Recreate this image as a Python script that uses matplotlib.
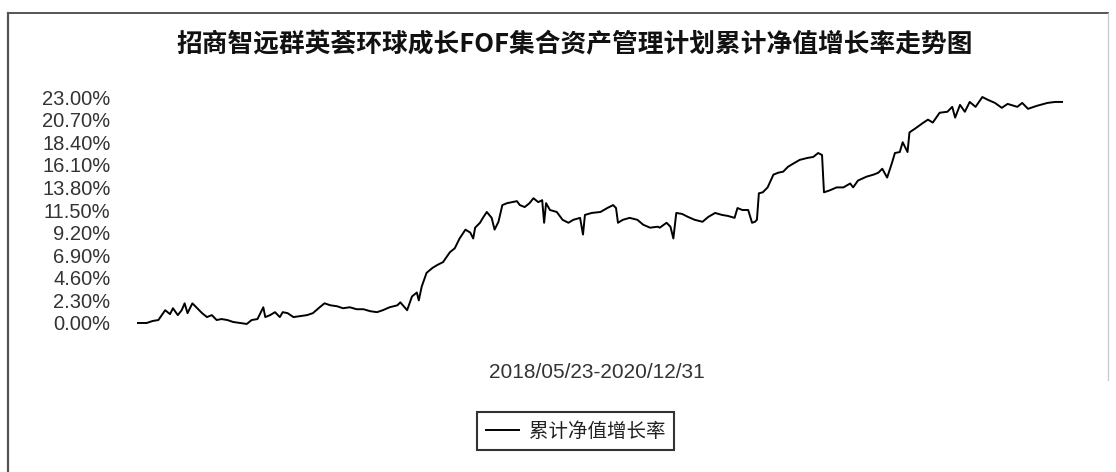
import matplotlib
matplotlib.use("Agg")
import matplotlib.pyplot as plt
from matplotlib.lines import Line2D

plt.rcParams['font.family'] = ['Liberation Sans', 'Noto Sans CJK SC', 'DejaVu Sans']

title = "招商智远群英荟环球成长FOF集合资产管理计划累计净值增长率走势图"
period_label = "2018/05/23-2020/12/31"
legend_label = "累计净值增长率"
total_days = 953  # 2018/05/23 -> 2020/12/31

# day offset from 2018/05/23
days = [0, 10, 16, 22, 29, 34, 37, 42, 46, 49, 52, 57, 62, 67, 72, 77, 82, 87, 93, 99,
        106, 113, 118, 124, 130, 132, 137, 142, 147, 150, 155, 161, 168, 175, 181, 188,
        193, 199, 206, 212, 219, 226, 233, 240, 247, 253, 260, 268, 271, 278, 283, 288,
        290, 293, 298, 304, 309, 315, 322, 327, 332, 338, 343, 346, 348, 353, 356, 360,
        365, 368, 372, 376, 381, 386, 391, 394, 399, 404, 408, 413, 417, 419, 421, 425,
        432, 438, 444, 449, 456, 459, 461, 468, 477, 484, 490, 493, 495, 500, 507, 515,
        521, 528, 536, 538, 545, 549, 552, 555, 561, 567, 574, 582, 588, 595, 602, 608,
        615, 618, 623, 629, 633, 636, 638, 640, 644, 649, 655, 660, 665, 670, 675, 682,
        690, 696, 701, 705, 707, 713, 720, 727, 734, 737, 742, 751, 758, 763, 767, 772,
        777, 780, 785, 788, 793, 795, 801, 808, 814, 819, 826, 834, 839, 842, 847, 852,
        857, 863, 870, 876, 883, 890, 896, 906, 911, 917, 926, 937, 945, 953]

# cumulative NAV growth (%)
growth = [0.0, 0.0, 0.2, 0.3, 1.3, 0.9, 1.5, 0.8, 1.3, 2.0, 1.0, 2.0, 1.5, 1.0, 0.6, 0.8, 0.3, 0.4, 0.3, 0.1,
          0.0, -0.1, 0.3, 0.4, 1.6, 0.6, 0.8, 1.1, 0.6, 1.1, 1.0, 0.6, 0.7, 0.8, 1.0, 1.6,
          2.0, 1.8, 1.7, 1.5, 1.6, 1.4, 1.4, 1.2, 1.1, 1.3, 1.6, 1.8, 2.1, 1.3, 2.7, 3.1,
          2.3, 3.7, 5.1, 5.6, 5.9, 6.2, 7.2, 7.6, 8.6, 9.5, 9.2, 8.6, 9.7, 10.2, 10.7, 11.3,
          10.7, 9.5, 10.3, 12.0, 12.2, 12.3, 12.4, 12.0, 11.8, 12.2, 12.7, 12.3, 12.5, 10.2, 12.2, 11.5,
          11.3, 10.5, 10.2, 10.5, 10.7, 9.0, 11.0, 11.2, 11.3, 11.7, 12.0, 11.7, 10.2, 10.5, 10.7, 10.5,
          10.0, 9.7, 9.8, 9.7, 10.2, 9.8, 8.6, 11.2, 11.1, 10.8, 10.5, 10.3, 10.8, 11.2, 11.0, 10.9,
          10.7, 11.7, 11.5, 11.5, 10.2, 10.3, 10.5, 13.2, 13.3, 13.8, 15.1, 15.3, 15.4, 15.9, 16.2, 16.6,
          16.8, 16.9, 17.3, 17.1, 13.3, 13.5, 13.8, 13.8, 14.2, 13.8, 14.5, 14.9, 15.1, 15.3, 15.7, 14.8,
          16.3, 17.3, 17.4, 18.4, 17.4, 19.4, 19.8, 20.3, 20.7, 20.4, 21.4, 21.5, 22.0, 20.9, 22.2, 21.5,
          22.5, 22.0, 23.0, 22.7, 22.4, 21.9, 22.3, 22.0, 22.4, 21.8, 22.1, 22.4, 22.5, 22.5]

yticks = [0.0, 2.3, 4.6, 6.9, 9.2, 11.5, 13.8, 16.1, 18.4, 20.7, 23.0]
ytick_labels = ["0.00%", "2.30%", "4.60%", "6.90%", "9.20%", "11.50%",
                "13.80%", "16.10%", "18.40%", "20.70%", "23.00%"]

W, H = 1116, 472
fig = plt.figure(figsize=(W / 100, H / 100), dpi=100)
fig.patch.set_facecolor('white')

# outer frame (scanned border)
fig.add_artist(Line2D([8 / W, 8 / W], [0, 1 - 13 / H], transform=fig.transFigure,
                      color='#555555', lw=1.6))
fig.add_artist(Line2D([8 / W, 1108 / W], [1 - 13 / H, 1 - 13 / H], transform=fig.transFigure,
                      color='#555555', lw=1.4))
fig.add_artist(Line2D([1108 / W, 1108 / W], [1 - 13 / H, 1 - 380 / H], transform=fig.transFigure,
                      color='#c8c8c8', lw=0.9))

ax = fig.add_axes([137 / W, 1 - 332.8 / H, 926 / W, (332.8 - 87.2) / H])
ax.plot(days, growth, color='black', lw=1.4, label=legend_label)
ax.set_xlim(0, total_days)
ax.set_ylim(-1, 24)
ax.set_yticks(yticks)
ax.set_yticklabels(ytick_labels, fontsize=14.5, color='#333333')
ax.set_xticks([])
ax.tick_params(axis='y', length=0, pad=19)
for s in ax.spines.values():
    s.set_visible(False)
ax.patch.set_alpha(0)

fig.text(575 / W, 1 - 45 / H, title, ha='center', va='center', fontsize=18.5,
         fontweight='bold', family=['Noto Sans CJK SC', 'DejaVu Sans'], color='#111111')

fig.text(597 / W, 1 - 372 / H, period_label, ha='center', va='center', fontsize=15,
         color='#333333')

leg = fig.legend(loc='center', bbox_to_anchor=(575.5 / W, 1 - 431 / H),
                 prop={'family': ['Noto Sans CJK SC', 'DejaVu Sans'], 'size': 14},
                 handlelength=1.7, handletextpad=0.5, borderpad=0.45,
                 fancybox=False, frameon=True, borderaxespad=0)
leg.get_frame().set_edgecolor('black')
leg.get_frame().set_linewidth(1.5)
for t in leg.get_texts():
    t.set_color('#222222')

fig.savefig('out.png', dpi=100, facecolor='white')
